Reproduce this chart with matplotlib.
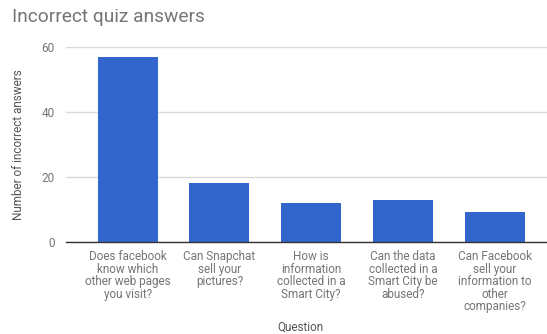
import matplotlib
matplotlib.use("Agg")
import matplotlib.pyplot as plt

questions = [
    "Does facebook\nknow which\nother web pages\nyou visit?",
    "Can Snapchat\nsell your\npictures?",
    "How is\ninformation\ncollected in a\nSmart City?",
    "Can the data\ncollected in a\nSmart City be\nabused?",
    "Can Facebook\nsell your\ninformation to\nother\ncompanies?",
]
incorrect = [57, 18, 12, 13, 9]
yticks = [0, 20, 40, 60]

plt.rcParams["font.family"] = ["Roboto", "DejaVu Sans"]

fig = plt.figure(figsize=(5.47, 3.34), dpi=100)
ax = fig.add_axes([65.7 / 547, 1 - 241.7 / 334, (547 - 65.7) / 547, (241.7 - 47) / 334])

x = list(range(len(questions)))
ax.bar(x, incorrect, width=0.655, color="#3366cc", zorder=3)

ax.set_xlim(-0.675, 4.57)
ax.set_ylim(0, 60)
ax.set_yticks(yticks)
ax.set_yticklabels([str(v) for v in yticks], color="#757575", fontsize=8.5)
ax.set_xticks(x)
ax.set_xticklabels(questions, color="#757575", fontsize=8.5, linespacing=0.95)
ax.tick_params(axis="both", length=0, pad=8)
ax.tick_params(axis="x", pad=6)

ax.grid(axis="y", color="#d9d9d9", linewidth=1, zorder=0)
for side in ["top", "right", "left"]:
    ax.spines[side].set_visible(False)
ax.spines["bottom"].set_color("#333333")
ax.spines["bottom"].set_linewidth(1)
ax.spines["bottom"].set_zorder(4)

ax.set_ylabel("Number of incorrect answers", color="#555555", fontsize=8.5, labelpad=12)
fig.text(0.5 + 65.7 / 547 / 2 - 0.01, 1 - 327 / 334, "Question", color="#555555",
         fontsize=8.5, ha="center", va="center")
fig.text(12 / 547, 1 - 17 / 334, "Incorrect quiz answers", color="#757575",
         fontsize=13.8, ha="left", va="center")

fig.savefig("out.png", dpi=100)
